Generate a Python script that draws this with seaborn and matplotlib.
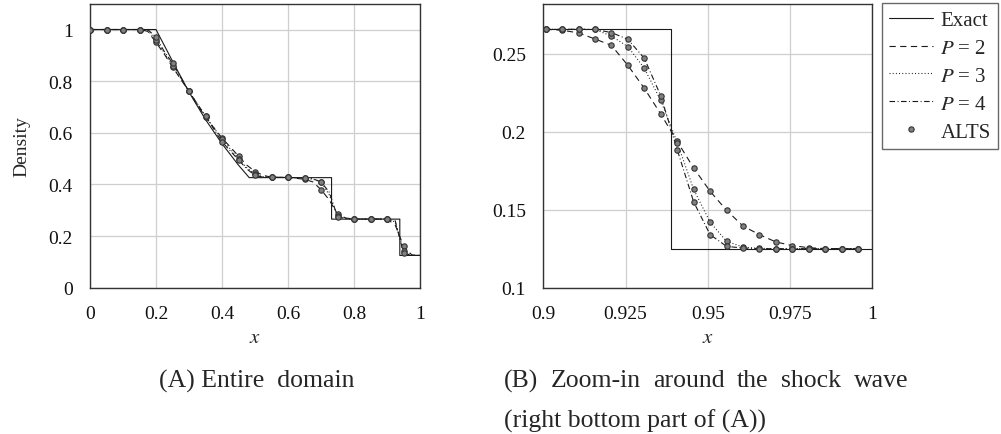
import numpy as np
import pandas as pd
import matplotlib
matplotlib.use("Agg")
import matplotlib.pyplot as plt
import seaborn as sns

sns.set_theme(style="white")
plt.rcParams['font.family'] = ['Liberation Serif', 'DejaVu Serif']
plt.rcParams['mathtext.fontset'] = 'stix'
plt.rcParams['lines.scale_dashes'] = False

# ---------------- data: entire domain (A) ----------------
exact_x = [0.0, 0.2, 0.25, 0.3, 0.35, 0.4, 0.45, 0.4825, 0.732, 0.732, 0.9388, 0.9388, 1.0]
exact_rho = [1.0, 1.0, 0.8775, 0.7574, 0.6513, 0.5577, 0.4746, 0.4263, 0.4263, 0.2656, 0.2656, 0.125, 0.125]

left_x = [0.0, 0.05, 0.1, 0.15, 0.175, 0.2, 0.225, 0.25, 0.3, 0.35, 0.4, 0.45, 0.475, 0.5,
          0.525, 0.55, 0.6, 0.65, 0.675, 0.7, 0.725, 0.75, 0.775, 0.8, 0.85, 0.9, 0.925,
          0.95, 0.975, 1.0]
left_p2 = [1.0, 1.0, 1.0, 1.0, 0.993, 0.95, 0.905, 0.855, 0.76, 0.66, 0.58, 0.51, 0.475, 0.45,
           0.435, 0.428, 0.427, 0.42, 0.41, 0.38, 0.34, 0.285, 0.27, 0.266, 0.266, 0.266, 0.2425,
           0.162, 0.127, 0.125]
left_p3 = [1.0, 1.0, 1.0, 1.0, 0.997, 0.96, 0.91, 0.86, 0.76, 0.665, 0.575, 0.50, 0.465, 0.44,
           0.43, 0.428, 0.427, 0.425, 0.42, 0.41, 0.36, 0.278, 0.268, 0.266, 0.266, 0.266, 0.2545,
           0.142, 0.125, 0.125]
left_p4 = [1.0, 1.0, 1.0, 1.0, 1.0, 0.97, 0.915, 0.87, 0.76, 0.665, 0.565, 0.495, 0.46, 0.435,
           0.428, 0.428, 0.427, 0.425, 0.422, 0.41, 0.37, 0.275, 0.267, 0.266, 0.266, 0.266, 0.259,
           0.134, 0.125, 0.125]
# ALTS markers are shown at every 0.05 in panel (A)
left_marker_x = [0.0, 0.05, 0.1, 0.15, 0.2, 0.25, 0.3, 0.35, 0.4, 0.45, 0.5, 0.55, 0.6, 0.65,
                 0.7, 0.75, 0.8, 0.85, 0.9, 0.95]

# ---------------- data: zoom around shock (B) ----------------
right_x = [0.9007, 0.9057, 0.9107, 0.9157, 0.9207, 0.9257, 0.9307, 0.9357, 0.9407, 0.9457,
           0.9507, 0.9557, 0.9607, 0.9657, 0.9707, 0.9757, 0.9807, 0.9857, 0.9907, 0.9957]
right_p2 = [0.2656, 0.265, 0.2633, 0.2594, 0.2553, 0.2425, 0.2278, 0.2113, 0.1938, 0.1767,
            0.1618, 0.1496, 0.1395, 0.134, 0.1293, 0.127, 0.1256, 0.1251, 0.125, 0.125]
right_p3 = [0.2656, 0.2656, 0.2656, 0.2655, 0.2613, 0.2545, 0.2406, 0.220, 0.193, 0.163,
            0.142, 0.1297, 0.126, 0.1252, 0.125, 0.125, 0.125, 0.125, 0.125, 0.125]
right_p4 = [0.2656, 0.2656, 0.2656, 0.2655, 0.2635, 0.2592, 0.247, 0.223, 0.1885, 0.155,
            0.134, 0.1265, 0.1254, 0.125, 0.125, 0.125, 0.125, 0.125, 0.125, 0.125]
right_exact_x = [0.9, 0.9388, 0.9388, 1.0]
right_exact_rho = [0.2656, 0.2656, 0.125, 0.125]

legend_labels = ['Exact', r'$P$ = 2', r'$P$ = 3', r'$P$ = 4', 'ALTS']

# ---------------- styling ----------------
LINE_C = '#1a1a1a'
LW = 0.8
DASHES = {'P2': (4.5, 3.2), 'P3': (0.7, 1.6), 'P4': (4.0, 1.8, 0.7, 1.8)}
MK = dict(marker='o', s=15, color='#808080', edgecolor='#333333', linewidth=0.8, zorder=5)

W, H = 1001, 435
fig = plt.figure(figsize=(W / 100, H / 100), dpi=100)
axA = fig.add_axes([90 / W, 1 - 288.7 / H, 330 / W, 284 / H])
axB = fig.add_axes([543.3 / W, 1 - 288.7 / H, 329 / W, 284 / H])

def draw(ax, ex_x, ex_y, xs, p2, p3, p4, mx=None):
    sns.lineplot(x=ex_x, y=ex_y, ax=ax, estimator=None, sort=False, color=LINE_C, lw=LW)
    for key, vals in (('P2', p2), ('P3', p3), ('P4', p4)):
        sns.lineplot(x=xs, y=vals, ax=ax, estimator=None, sort=False, color=LINE_C, lw=LW)
        ax.lines[-1].set_dashes(DASHES[key])
    if mx is None:
        mxs, sets = xs, (p2, p3, p4)
    else:
        idx = [xs.index(v) for v in mx]
        mxs = mx
        sets = ([p2[i] for i in idx], [p3[i] for i in idx], [p4[i] for i in idx])
    for vals in sets:
        sns.scatterplot(x=mxs, y=vals, ax=ax, **MK)

draw(axA, exact_x, exact_rho, left_x, left_p2, left_p3, left_p4, left_marker_x)
draw(axB, right_exact_x, right_exact_rho, right_x, right_p2, right_p3, right_p4)

axA.set_xlim(0, 1)
axA.set_ylim(0, 1.1)
axA.set_xticks([0, 0.2, 0.4, 0.6, 0.8, 1])
axA.set_xticklabels(['0', '0.2', '0.4', '0.6', '0.8', '1'])
axA.set_yticks([0, 0.2, 0.4, 0.6, 0.8, 1])
axA.set_yticklabels(['0', '0.2', '0.4', '0.6', '0.8', '1'])
axA.set_ylabel('Density', fontsize=14, labelpad=13)

axB.set_xlim(0.9, 1.0)
axB.set_ylim(0.1, 0.282)
axB.set_xticks([0.9, 0.925, 0.95, 0.975, 1.0])
axB.set_xticklabels(['0.9', '0.925', '0.95', '0.975', '1'])
axB.set_yticks([0.1, 0.15, 0.2, 0.25])
axB.set_yticklabels(['0.1', '0.15', '0.2', '0.25'])

for ax in (axA, axB):
    ax.set_xlabel(r'$x$', fontsize=15, labelpad=4)
    ax.grid(True, color='#cfcfcf', lw=0.9)
    ax.set_axisbelow(True)
    ax.tick_params(direction='out', length=6.5, width=0.8, color='#9a9a9a',
                   labelsize=14, pad=6, labelcolor='#111111')
    for sp in ax.spines.values():
        sp.set_color('#333333')
        sp.set_linewidth(1.0)

# legend
from matplotlib.lines import Line2D
handles = [
    Line2D([], [], color=LINE_C, lw=LW),
    Line2D([], [], color=LINE_C, lw=LW, dashes=DASHES['P2']),
    Line2D([], [], color=LINE_C, lw=LW, dashes=DASHES['P3']),
    Line2D([], [], color=LINE_C, lw=LW, dashes=DASHES['P4']),
    Line2D([], [], ls='none', marker='o', ms=3.8, mfc='#808080', mec='#333333', mew=0.8),
]
leg = fig.legend(handles, legend_labels, loc='upper right', bbox_to_anchor=(998 / W, 1 - 4 / H),
                 fontsize=15, frameon=True, fancybox=False, edgecolor='#444444',
                 handlelength=2.1, handletextpad=0.35, labelspacing=0.4, borderpad=0.35,
                 borderaxespad=0)
leg.get_frame().set_linewidth(1.0)

# captions
CAP = 18.5
fig.text(257 / W, 1 - 381 / H, '(A) Entire  domain', ha='center', va='center', fontsize=CAP)
fig.canvas.draw()
renderer = fig.canvas.get_renderer()
words = ['(B)', 'Zoom-in', 'around', 'the', 'shock', 'wave']
x_left, x_right = 504, 908
txts = [fig.text(0, 1 - 381 / H, w, ha='left', va='center', fontsize=CAP) for w in words]
widths = [t.get_window_extent(renderer).width for t in txts]
gap = (x_right - x_left - sum(widths)) / (len(words) - 1)
pos = x_left
for t, wd in zip(txts, widths):
    t.set_x(pos / W)
    pos += wd + gap
fig.text(x_left / W, 1 - 421 / H, '(right bottom part of (A))', ha='left', va='center', fontsize=CAP)

fig.savefig('out.png', dpi=100)
